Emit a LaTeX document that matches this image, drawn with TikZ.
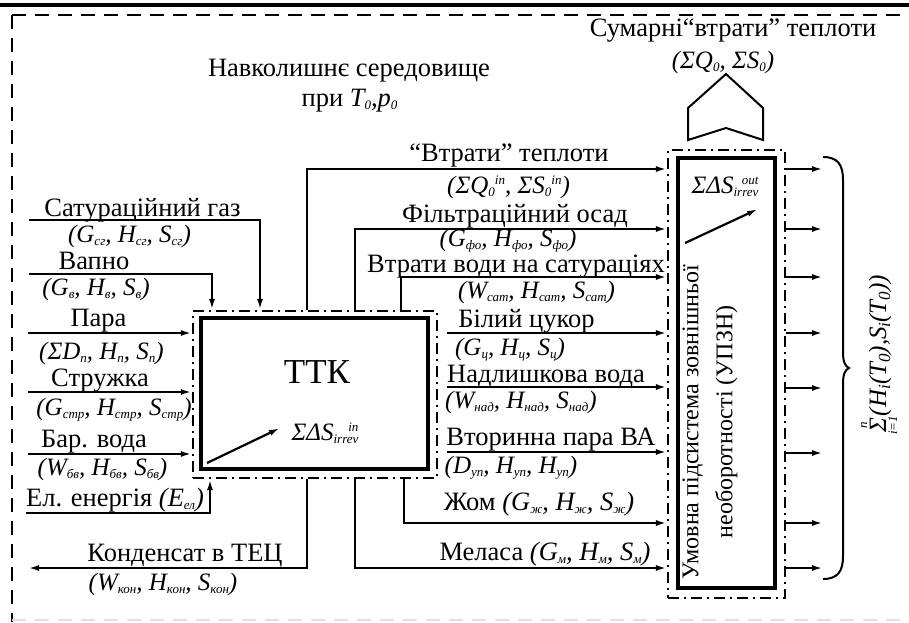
\documentclass[tikz,border=0pt]{standalone}
\usepackage{fontspec}
\setmainfont{Liberation Serif}
\usetikzlibrary{arrows.meta}
\newcommand\mysub[1]{\raisebox{-3.5pt}{\fontsize{13}{13}\selectfont\itshape #1}}
\newcommand\mysup[1]{\raisebox{9pt}{\fontsize{13}{13}\selectfont\itshape #1}}
\newcommand\bigsub[1]{\raisebox{-4pt}{\fontsize{17}{17}\selectfont\itshape #1}}
\newcommand\sumstack{\setbox0\hbox{Σ}\rlap{\hbox to\wd0{\hss\raisebox{19pt}{\fontsize{13}{13}\selectfont\itshape n}\hss}}\rlap{\hbox to\wd0{\hss\raisebox{-11pt}{\fontsize{13}{13}\selectfont\itshape i=1}\hss}}Σ\kern2pt}
\tikzset{
  flow/.style={line width=2.2pt,-{Latex[length=11pt,width=6pt]}},
  solidbox/.style={draw,line width=4pt,inner sep=0pt},
  ddbox/.style={draw,line width=2.2pt,dash pattern=on 11pt off 5pt on 2pt off 5pt,inner sep=0pt},
  lbl/.style={anchor=base,inner sep=0pt,font=\fontsize{26.5}{26.5}\selectfont},
  frm/.style={anchor=base,inner sep=0pt,font=\fontsize{25}{25}\selectfont\itshape},
}
\begin{document}
\begin{tikzpicture}[x=1pt,y=-1pt]
\useasboundingbox (0,0) rectangle (909,622);
% frame
\draw[line width=4pt] (0,5) -- (909,5);
\draw[line width=2.2pt,dash pattern=on 14pt off 9pt] (12,15) -- (909,15);
\draw[line width=2.2pt,dash pattern=on 14pt off 9pt] (12,15) -- (12,622);
\draw[line width=2pt,gray!25,dash pattern=on 14pt off 9pt] (12,620) -- (909,620);

% boxes
\node[ddbox,minimum width=244pt,minimum height=167pt] (ttko) at (315,394.5) {};
\node[solidbox,minimum width=227pt,minimum height=151pt] (ttk) at (314.5,393.5) {};
\node[ddbox,minimum width=117pt,minimum height=448pt] (upo) at (726.5,374) {};
\node[solidbox,minimum width=97pt,minimum height=430pt] (upi) at (726.5,373) {};

\node[lbl,font=\fontsize{35}{35}\selectfont] (ttkt) at (317,383) {ТТК};
\node[frm] (sin) at (325,440) {ΣΔS\mysub{irrev}\llap{\mysup{in}}};
\coordinate (a1s) at (207,463); \coordinate (a1e) at (280,428);
\draw[flow] (a1s) -- (a1e);
\node[frm] (sout) at (725,193) {ΣΔS\mysub{irrev}\llap{\mysup{out}}};
\coordinate (a2s) at (685,243); \coordinate (a2e) at (758,209);
\draw[flow] (a2s) -- (a2e);
\node[rotate=90,align=center,inner sep=0pt,font=\fontsize{24}{34}\selectfont] (upt) at (710,422) {Умовна підсистема зовнішньої\\необоротності (УПЗН)};

% top texts
\node[lbl] (env1) at (349,76) {Навколишнє середовище};
\node[lbl] (env2) at (349.5,106) {при {\itshape T\mysub{0},p\mysub{0}}};
\node[lbl] (sum1) at (733,36) {Сумарні“втрати” теплоти};
\node[frm] (sum2) at (723,68) {(ΣQ\mysub{0}, ΣS\mysub{0})};
\draw[line width=2pt,line join=miter] (688,140) -- (688,108) -- (726,74) -- (763,108) -- (763,140) -- (726,128) -- cycle;

% left inputs
\coordinate (i1) at (29,220); \coordinate (i1x) at (260,0);
\draw[flow] (i1) -| (ttko.north -| i1x);
\node[lbl] at (142.5,216) {Сатураційний газ};
\node[frm] at (129.5,242) {(G\mysub{сг}, H\mysub{сг}, S\mysub{сг})};
\coordinate (i2) at (29,274); \coordinate (i2x) at (212,0);
\draw[flow] (i2) -| (ttko.north -| i2x);
\node[lbl] at (94,269) {Вапно};
\node[frm] at (96,295) {(G\mysub{в}, H\mysub{в}, S\mysub{в})};
\coordinate (i3) at (28,333);
\draw[flow] (i3) -- (ttko.west |- i3);
\node[lbl] at (98.5,326) {Пара};
\node[frm] at (101.5,359) {(ΣD\mysub{п}, H\mysub{п}, S\mysub{п})};
\coordinate (i4) at (28,392);
\draw[flow] (i4) -- (ttko.west |- i4);
\node[lbl] at (100,386) {Стружка};
\node[frm] at (114,415) {(G\mysub{стр}, H\mysub{стр}, S\mysub{стр})};
\coordinate (i5) at (28,454);
\draw[flow] (i5) -- (ttko.west |- i5);
\node[lbl] at (94,447) {Бар. вода};
\node[frm] at (102.5,475) {(W\mysub{бв}, H\mysub{бв}, S\mysub{бв})};
\coordinate (i6) at (26,513); \coordinate (i6x) at (210,0);
\draw[flow] (i6) -| (ttko.south -| i6x);
\node[lbl] at (115,506) {Ел. енергія {\itshape(E\mysub{ел})}};
\coordinate (k1) at (307,568); \coordinate (k2) at (28,568);
\draw[flow] (ttko.south -| k1) |- (k2);
\node[lbl] at (185,561) {Конденсат в ТЕЦ};
\node[frm] at (163,590) {(W\mysub{кон}, H\mysub{кон}, S\mysub{кон})};

% outputs from top
\coordinate (o1) at (307,169);
\draw[flow] (ttko.north -| o1) |- (upo.west |- o1);
\node[lbl] at (509,161) {“Втрати” теплоти};
\node[frm] at (508.5,193) {(ΣQ\mysub{0}\mysup{in}, ΣS\mysub{0}\mysup{in})};
\coordinate (o2) at (355,229);
\draw[flow] (ttko.north -| o2) |- (upo.west |- o2);
\node[lbl] at (515,222) {Фільтраційний осад};
\node[frm] at (508,246) {(G\mysub{фо}, H\mysub{фо}, S\mysub{фо})};
\coordinate (o3) at (401,277);
\draw[flow] (ttko.north -| o3) |- (upo.west |- o3);
\node[lbl] at (516,272) {Втрати води на сатураціях};
\node[frm] at (536.5,298) {(W\mysub{сат}, H\mysub{сат}, S\mysub{сат})};
% outputs from right
\coordinate (o4) at (447,333);
\draw[flow] (o4) -- (upo.west |- o4);
\node[lbl] at (526.5,327) {Білий цукор};
\node[frm] at (510,355) {(G\mysub{ц}, H\mysub{ц}, S\mysub{ц})};
\coordinate (o5) at (447,387);
\draw[flow] (o5) -- (upo.west |- o5);
\node[lbl] at (546,382) {Надлишкова вода};
\node[frm] at (521,408) {(W\mysub{над}, H\mysub{над}, S\mysub{над})};
\coordinate (o6) at (447,452);
\draw[flow] (o6) -- (upo.west |- o6);
\node[lbl] at (551,445) {Вторинна пара ВА};
\node[frm] at (511,473) {(D\mysub{уп}, H\mysub{уп}, H\mysub{уп})};
% outputs from bottom
\coordinate (o7) at (404,523);
\draw[flow] (ttko.south -| o7) |- (upo.west |- o7);
\node[lbl] at (539,510) {Жом {\itshape(G\mysub{ж}, H\mysub{ж}, S\mysub{ж})}};
\coordinate (o8) at (355,568);
\draw[flow] (ttko.south -| o8) |- (upo.west |- o8);
\node[lbl] at (545,560) {Меласа {\itshape(G\mysub{м}, H\mysub{м}, S\mysub{м})}};

% right arrows
\foreach \yy [count=\n] in {169,229,277,333,388,453,523,568}{
  \coordinate (r\n) at (823,\yy);
  \draw[flow] (upo.east |- r\n) -- (r\n);
}
\draw[line width=2pt] (823,157) .. controls (838,157) and (843,165) .. (843,180) -- (843,352) .. controls (843,362) and (845,366) .. (849,368) .. controls (845,370) and (843,374) .. (843,384) -- (843,556) .. controls (843,571) and (838,579) .. (823,579);
\node[rotate=90,inner sep=0pt,font=\fontsize{25}{25}\selectfont\itshape] (sumt) at (879,354) {\sumstack(H\bigsub{i}(T\bigsub{0}),S\bigsub{i}(T\bigsub{0}))};
\end{tikzpicture}
\end{document}
